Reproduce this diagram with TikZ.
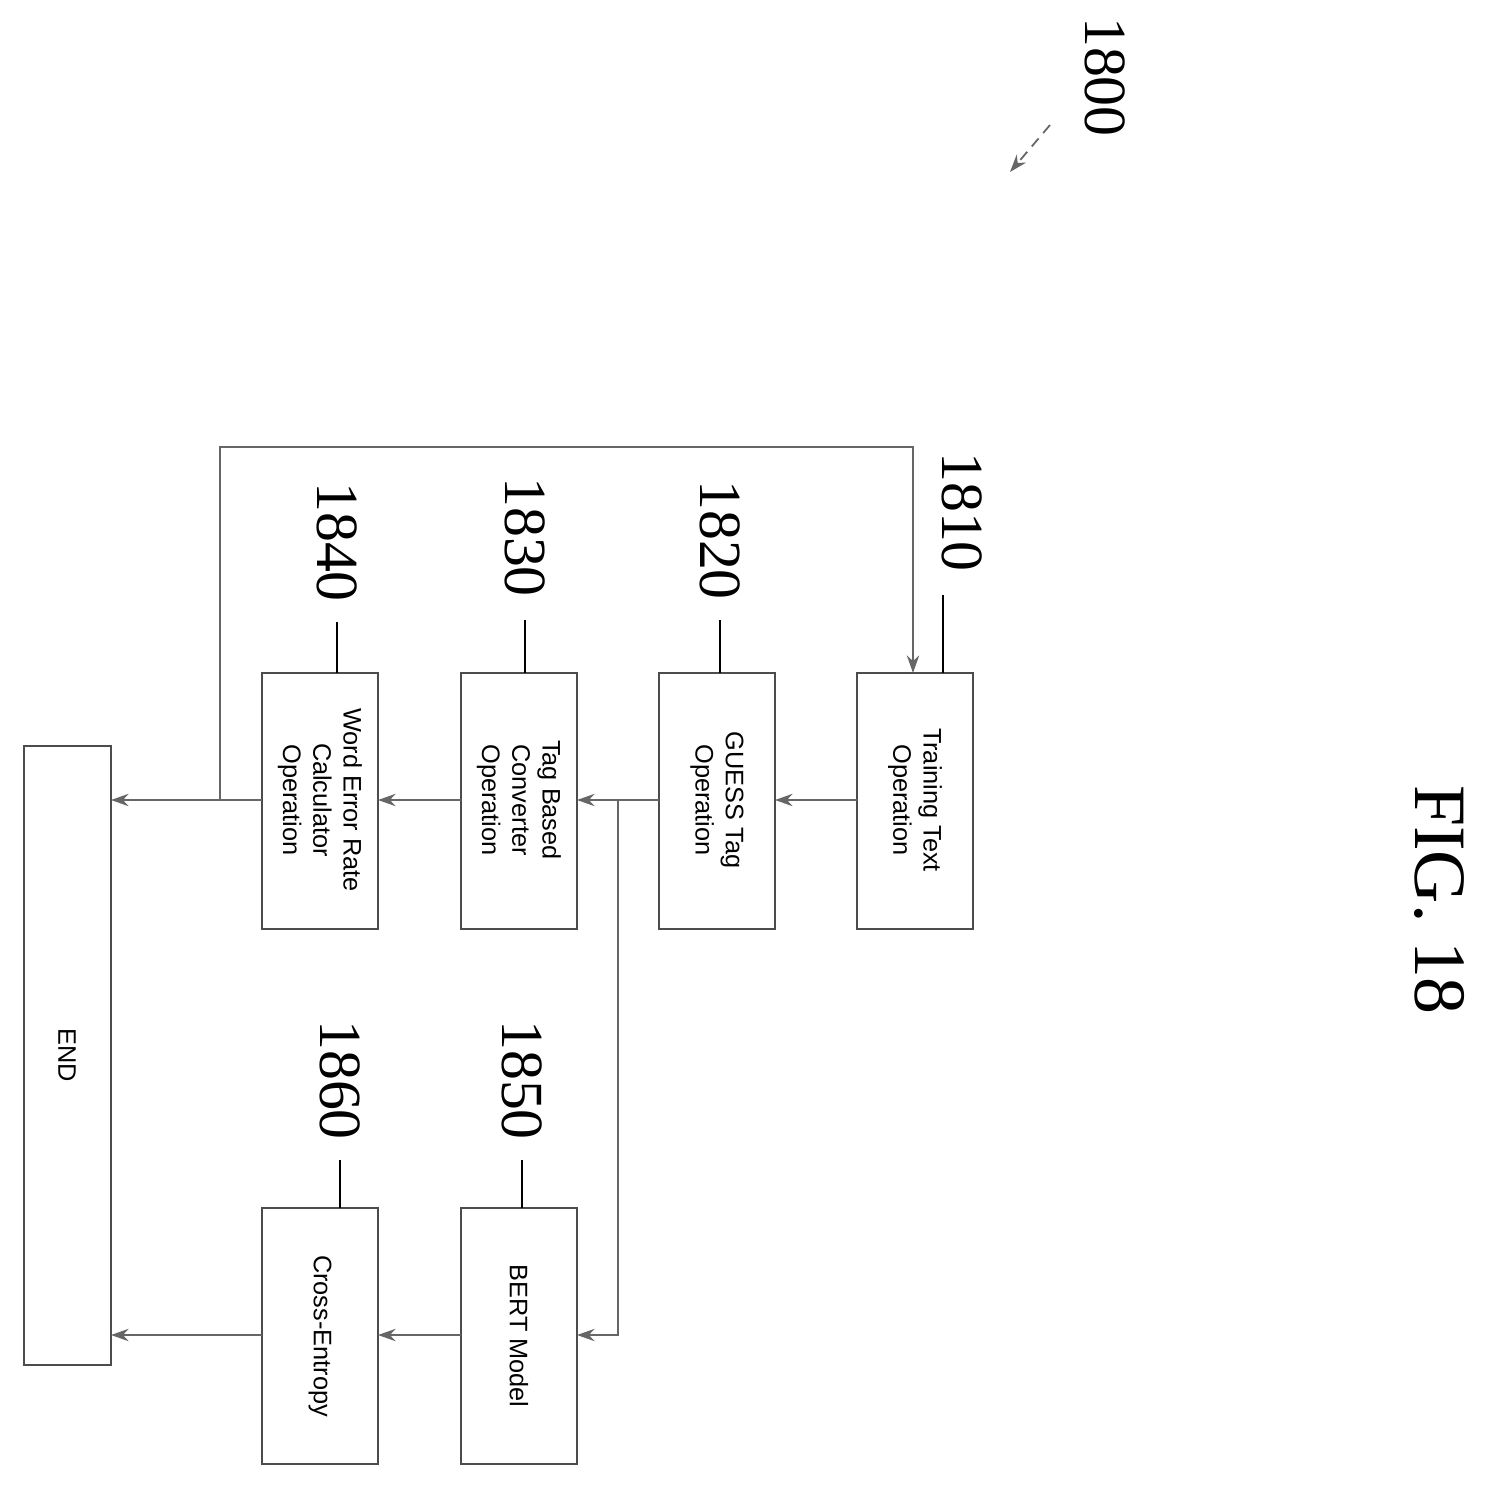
\documentclass[tikz,border=0pt]{standalone}
\usepackage{fontspec}
\setmainfont{Liberation Serif}
\newfontfamily\boxfont{Liberation Sans}
\usetikzlibrary{arrows.meta}
\begin{document}
\begin{tikzpicture}[x=0.01cm,y=-0.01cm,
  blk/.style={draw=black!70,line width=0.5pt,inner sep=0},
  btxt/.style={rotate=-90,align=center,font=\boxfont\fontsize{7.2}{8.6}\selectfont},
  num/.style={rotate=-90,font=\fontsize{17}{17}\selectfont},
  conn/.style={draw=black!60,line width=0.5pt,-{Stealth[length=5pt,width=3.5pt]}},
  lead/.style={draw=black,line width=0.7pt}]
\useasboundingbox (0,0) rectangle (1497,1488);
\draw[blk] (857,673) rectangle (973,929); \node[btxt] (t1) at (915,800) {Training Text\\Operation};
\coordinate (b1r) at (857,800); \coordinate (b1t) at (913,673);
\draw[blk] (659,673) rectangle (775,929); \node[btxt] (t2) at (717,800) {GUESS Tag\\Operation};
\coordinate (b2l) at (775,800); \coordinate (b2r) at (659,800);
\draw[blk] (461,673) rectangle (577,929); \node[btxt] (t3) at (519,800) {Tag Based\\Converter\\Operation};
\coordinate (b3l) at (577,800); \coordinate (b3r) at (461,800);
\draw[blk] (262,673) rectangle (378,929); \node[btxt] (t4) at (320,800) {Word Error Rate\\Calculator\\Operation};
\coordinate (b4l) at (378,800); \coordinate (b4r) at (262,800);
\draw[blk] (24,746) rectangle (111,1365); \node[btxt] (t7) at (67,1055) {END};
\coordinate (e1) at (111,800); \coordinate (e2) at (111,1335);
\draw[blk] (461,1208) rectangle (577,1464); \node[btxt] (t5) at (519,1336) {BERT Model};
\coordinate (b5l) at (577,1335); \coordinate (b5r) at (461,1335);
\draw[blk] (262,1208) rectangle (378,1464); \node[btxt] (t6) at (320,1336) {Cross-Entropy};
\coordinate (b6l) at (378,1335); \coordinate (b6r) at (262,1335);
% connectors
\draw[conn] (b1r) -- (b2l);
\draw[conn] (b2r) -- (b3l);
\draw[conn] (618,800) -- (618,1335) -- (b5l);
\draw[conn] (b3r) -- (b4l);
\draw[conn] (b4r) -- (e1);
\draw[conn] (220,800) -- (220,447) -- (913,447) -- (b1t);
\draw[conn] (b5r) -- (b6l);
\draw[conn] (b6r) -- (e2);
% labels
\node[num] (n1) at (962,512) {1810}; \draw[lead] (943,595) -- (943,673);
\node[num] (n2) at (720,540) {1820}; \draw[lead] (720,620) -- (720,673);
\node[num] (n3) at (525,537) {1830}; \draw[lead] (525,620) -- (525,673);
\node[num] (n4) at (337,542) {1840}; \draw[lead] (337,622) -- (337,673);
\node[num] (n5) at (522,1080) {1850}; \draw[lead] (522,1160) -- (522,1208);
\node[num] (n6) at (340,1080) {1860}; \draw[lead] (340,1160) -- (340,1208);
\node[num] (n0) at (1105,77) {1800};
\draw[conn,densely dashed] (1050,125) -- (1010,172);
\node[rotate=-90,font=\fontsize{21}{21}\selectfont] (fig) at (1440,900) {FIG. 18};
\end{tikzpicture}
\end{document}
